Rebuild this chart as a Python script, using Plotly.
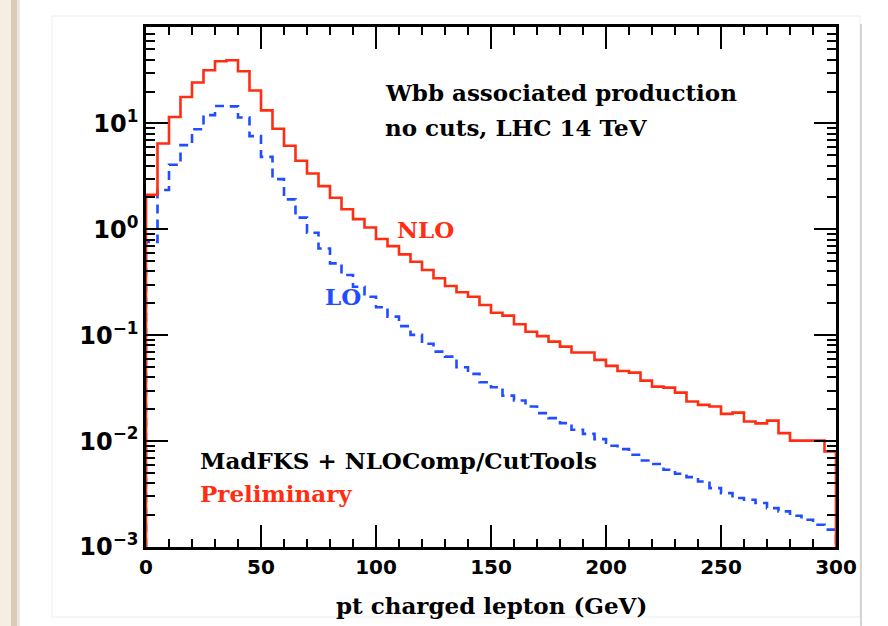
import plotly.graph_objects as go

# ---- data: 5 GeV bins from 0 to 300 GeV ----
bin_edges = [5 * i for i in range(61)]

nlo_values = [
    2.12, 6.47, 11.5, 17.8, 24.4, 31.8, 38.7, 39.5, 31.1, 20.5,
    13.3, 8.9, 6.15, 4.44, 3.37, 2.56, 1.99, 1.55, 1.25, 1.04,
    0.81, 0.695, 0.58, 0.494, 0.413, 0.345, 0.292, 0.255, 0.231, 0.193,
    0.163, 0.153, 0.127, 0.108, 0.098, 0.087, 0.078, 0.0686, 0.0686, 0.0585,
    0.0513, 0.046, 0.0443, 0.0373, 0.0327, 0.0320, 0.0287, 0.0237, 0.022, 0.0212,
    0.0181, 0.0186, 0.0153, 0.0147, 0.0156, 0.0119, 0.0101, 0.0101, 0.0101, 0.0080,
]

lo_values = [
    0.76, 2.35, 4.07, 6.24, 8.83, 12.0, 14.6, 14.5, 11.4, 7.59,
    4.84, 2.98, 1.92, 1.29, 0.93, 0.66, 0.477, 0.371, 0.287, 0.231,
    0.184, 0.150, 0.122, 0.1007, 0.083, 0.070, 0.0628, 0.0499, 0.0432, 0.036,
    0.0323, 0.0269, 0.0242, 0.0212, 0.0184, 0.0165, 0.0148, 0.0128, 0.0117, 0.01045,
    0.00903, 0.0084, 0.00743, 0.00656, 0.00607, 0.00536, 0.00492, 0.00457, 0.00416, 0.0036,
    0.00323, 0.0029, 0.00279, 0.0026, 0.00233, 0.00217, 0.00197, 0.00181, 0.00162, 0.00146,
]

baseline = 1e-3
x_tick_vals = [0, 50, 100, 150, 200, 250, 300]
y_tick_vals = [1e-3, 1e-2, 1e-1, 1, 10]
y_tick_text = ["10<sup>\u22123</sup>", "10<sup>\u22122</sup>", "10<sup>\u22121</sup>",
               "10<sup>0</sup>", "10<sup>1</sup>"]

RED = "#ff2d12"
BLUE = "#1f4dff"
TEXT_FONT = "DejaVu Serif"
TICK_FONT = "DejaVu Sans"


def step_xy(edges, vals):
    xs = [edges[0]] + list(edges) + [edges[-1]]
    ys = [baseline] + list(vals) + [vals[-1], baseline]
    return xs, ys


fig = go.Figure()

xn, yn = step_xy(bin_edges, nlo_values)
xl, yl = step_xy(bin_edges, lo_values)

fig.add_trace(go.Scatter(x=xl, y=yl, mode="lines", line_shape="hv",
                         line=dict(color=BLUE, width=2.6, dash="9px,6px"),
                         showlegend=False, hoverinfo="skip"))
fig.add_trace(go.Scatter(x=xn, y=yn, mode="lines", line_shape="hv",
                         line=dict(color=RED, width=2.6),
                         showlegend=False, hoverinfo="skip"))
# invisible trace to create mirrored (top/right) tick axes
fig.add_trace(go.Scatter(x=[bin_edges[1]], y=[nlo_values[0]], xaxis="x2", yaxis="y2",
                         mode="markers", marker=dict(opacity=0), showlegend=False,
                         hoverinfo="skip"))

L, R, T, B = 146, 52, 27, 79
W, H = 888, 626
pw, ph = W - L - R, H - T - B


def px(x):
    return (x - L) / pw


def py(y):
    return (H - B - y) / ph


fig.update_layout(
    width=W, height=H,
    margin=dict(l=L, r=R, t=T, b=B),
    paper_bgcolor="white", plot_bgcolor="white",
    showlegend=False,
)

x_tick_font = dict(family=TICK_FONT, size=20, color="black", weight="bold")
y_tick_font = dict(family=TICK_FONT, size=24, color="black", weight="bold")
common = dict(showgrid=False, zeroline=False, showline=True, linecolor="black",
              linewidth=2.5, ticks="inside", ticklen=22, tickwidth=2.2, tickcolor="black")

fig.update_layout(
    xaxis=dict(range=[0, 300], tickvals=x_tick_vals, tickfont=x_tick_font,
               minor=dict(ticks="inside", ticklen=8, tickwidth=2.2, tickcolor="black",
                          dtick=10, showgrid=False), **common),
    xaxis2=dict(range=[0, 300], overlaying="x", side="top", tickvals=x_tick_vals,
                showticklabels=False,
                minor=dict(ticks="inside", ticklen=8, tickwidth=2.2, tickcolor="black",
                           dtick=10, showgrid=False), **common),
    yaxis=dict(type="log", range=[-3, 1.911], tickvals=y_tick_vals, ticktext=y_tick_text,
               tickfont=y_tick_font,
               minor=dict(ticks="inside", ticklen=9, tickwidth=2.2, tickcolor="black",
                          dtick="D1", showgrid=False), **common),
    yaxis2=dict(type="log", range=[-3, 1.911], overlaying="y", side="right",
                tickvals=y_tick_vals, showticklabels=False,
                minor=dict(ticks="inside", ticklen=9, tickwidth=2.2, tickcolor="black",
                           dtick="D1", showgrid=False), **common),
)

annots = [
    ("Wbb associated production", 383, 92, "black"),
    ("no cuts, LHC 14 TeV", 383, 128, "black"),
    ("NLO", 395, 230, RED),
    ("LO", 323, 297, BLUE),
    ("MadFKS + NLOComp/CutTools", 198, 460, "black"),
    ("Preliminary", 198, 493, RED),
]
for txt, x0, y0, col in annots:
    fig.add_annotation(text=txt, x=px(x0), y=py(y0), xref="paper", yref="paper",
                       xanchor="left", yanchor="middle", showarrow=False,
                       font=dict(family=TEXT_FONT, size=23, color=col, weight="bold"))

fig.add_annotation(text="pt charged lepton (GeV)", x=px(491), y=py(605),
                   xref="paper", yref="paper", xanchor="center", yanchor="middle",
                   showarrow=False,
                   font=dict(family=TEXT_FONT, size=23, color="black", weight="bold"))

# slide background decorations
shapes = [
    dict(type="rect", xref="paper", yref="paper", x0=px(0), x1=px(11), y0=py(626), y1=py(0),
         fillcolor="#f6eee1", line=dict(width=0), layer="below"),
    dict(type="rect", xref="paper", yref="paper", x0=px(11), x1=px(17), y0=py(626), y1=py(0),
         fillcolor="#d9cbb6", line=dict(width=0), layer="below"),
    dict(type="rect", xref="paper", yref="paper", x0=px(17), x1=px(20), y0=py(626), y1=py(0),
         fillcolor="#ece6dc", line=dict(width=0), layer="below"),
    dict(type="rect", xref="paper", yref="paper", x0=px(52), x1=px(860), y0=py(617), y1=py(16),
         fillcolor="rgba(0,0,0,0)", line=dict(width=1, color="#ececec"), layer="below"),
    dict(type="line", xref="paper", yref="paper", x0=px(861), x1=px(861), y0=py(626), y1=py(24),
         line=dict(width=2, color="#d4d4d4"), layer="below"),
]
fig.update_layout(shapes=shapes)

fig.write_html("out.html", config={"displayModeBar": False},
               post_script="document.body.style.margin='0';")
